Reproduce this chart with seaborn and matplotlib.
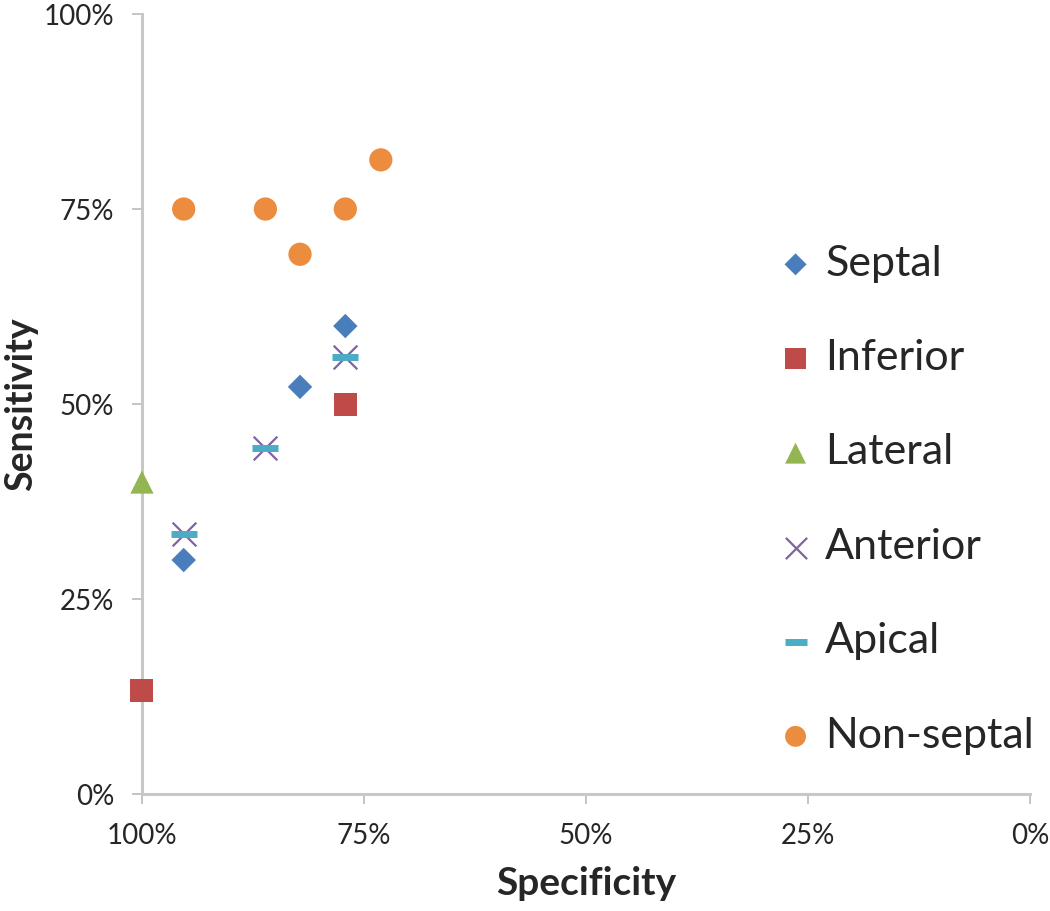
import pandas as pd
import matplotlib
matplotlib.use("Agg")
import matplotlib.pyplot as plt
import seaborn as sns

# values in percent
septal_spec = [95.3, 82.2, 77.1]
septal_sens = [30.0, 52.2, 60.0]
inferior_spec = [100.0, 77.1]
inferior_sens = [13.3, 50.0]
lateral_spec = [100.0]
lateral_sens = [40.0]
anterior_spec = [95.3, 86.1, 77.1]
anterior_sens = [33.3, 44.4, 56.0]
apical_spec = [95.3, 86.1, 77.1]
apical_sens = [33.3, 44.4, 56.0]
nonseptal_spec = [95.3, 86.1, 77.1, 82.2, 73.1]
nonseptal_sens = [75.0, 75.0, 75.0, 69.2, 81.3]

series = ["Septal", "Inferior", "Lateral", "Anterior", "Apical", "Non-septal"]
spec = [septal_spec, inferior_spec, lateral_spec, anterior_spec, apical_spec, nonseptal_spec]
sens = [septal_sens, inferior_sens, lateral_sens, anterior_sens, apical_sens, nonseptal_sens]

rows = []
for name, xs, ys in zip(series, spec, sens):
    for x, y in zip(xs, ys):
        rows.append({"Series": name, "Specificity": x, "Sensitivity": y})
df = pd.DataFrame(rows)

colors = {"Septal": "#4A7DBB", "Inferior": "#BE4B48", "Lateral": "#93B653",
          "Anterior": "#8064A2", "Apical": "#4BACC6", "Non-septal": "#EB8C3F"}
markers = {"Septal": "D", "Inferior": "s", "Lateral": "^",
           "Anterior": "x", "Apical": "_", "Non-septal": "o"}
sizes = {"Septal": 155, "Inferior": 275, "Lateral": 280,
         "Anterior": 290, "Apical": 330, "Non-septal": 280}

sns.set_theme(style="white")
plt.rcParams["font.family"] = ["Lato", "DejaVu Sans"]

fig = plt.figure(figsize=(10.5, 9.11), dpi=100)
ax = fig.add_axes([0.1352, 0.1284, 0.8457, 0.8562])

for name in series:
    sub = df[df["Series"] == name]
    m = markers[name]
    kw = {}
    if m in ("x", "_"):
        kw["linewidth"] = 1.6 if m == "x" else 5
    else:
        kw["edgecolor"] = "none"
    sns.scatterplot(data=sub, x="Specificity", y="Sensitivity", ax=ax,
                    color=colors[name], marker=m, s=sizes[name],
                    label=name, clip_on=False, zorder=3, **kw)

ax.set_xlim(100, 0)
ax.set_ylim(0, 100)
ticks = [0, 25, 50, 75, 100]
ax.set_xticks(ticks)
ax.set_yticks(ticks)
ax.set_xticklabels([f"{t}%" for t in ticks])
ax.set_yticklabels([f"{t}%" for t in ticks])
ax.tick_params(axis="both", labelsize=20, colors="#BFBFBF", labelcolor="#262626",
               direction="out", length=7, width=1.3, bottom=True, left=True)
ax.tick_params(axis="x", pad=14)
ax.tick_params(axis="y", pad=13)

for s in ["top", "right"]:
    ax.spines[s].set_visible(False)
for s in ["left", "bottom"]:
    ax.spines[s].set_color("#C8C8C8")
    ax.spines[s].set_linewidth(2.2)

ax.set_xlabel("Specificity", fontsize=28, fontweight="bold", labelpad=12)
ax.set_ylabel("Sensitivity", fontsize=27, fontweight="bold", labelpad=4)

handles, labels = ax.get_legend_handles_labels()
leg = ax.legend(handles, labels, loc="upper left", bbox_to_anchor=(0.673, 0.754),
                frameon=False, fontsize=31, labelspacing=1.31, handletextpad=0.29,
                handlelength=0.8, markerscale=0.9)

fig.savefig("out.png", dpi=100)
